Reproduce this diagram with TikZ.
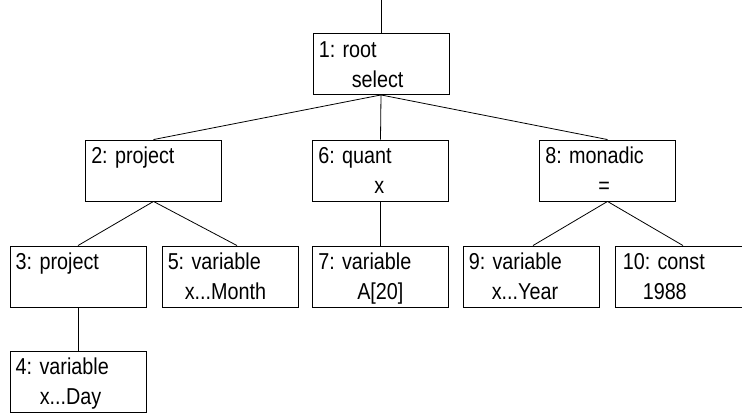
\documentclass[tikz,border=0pt]{standalone}
\usepackage{fontspec}
\setmainfont{Liberation Sans}[FakeStretch=0.86]
\usetikzlibrary{calc}
\begin{document}
\begin{tikzpicture}[x=1pt,y=-1pt,
  opbox/.style={draw,line width=0.9pt,minimum width=136pt,minimum height=61pt,inner sep=0pt},
  edge/.style={line width=0.8pt},
  txt/.style={anchor=base west,inner sep=0pt,font=\fontsize{23}{27}\selectfont}]
\useasboundingbox (0,0) rectangle (742,415);
\clip (0,0) rectangle (742,415);
% operator boxes
\node[opbox] (n1)  at (381,64) {};
\node[opbox] (n2)  at (153.5,170.5) {};
\node[opbox] (n6)  at (380.5,170.5) {};
\node[opbox] (n8)  at (607.5,170.5) {};
\node[opbox] (n3)  at (78,276.5) {};
\node[opbox] (n5)  at (230,276.5) {};
\node[opbox] (n7)  at (380.5,276.5) {};
\node[opbox] (n9)  at (531,276.5) {};
\node[opbox] (n10) at (683,276.5) {};
\node[opbox] (n4)  at (78,382) {};
\coordinate (top) at (381,0);
% labels: first line is the node id and kind, second line the argument
\node[txt] (l1a)  at ($(n1.north west)+(6,24)$) {1: root};
\node[txt] (l1b)  at ($(n1.north west)+(39,54)$) {select};
\node[txt] (l2a)  at ($(n2.north west)+(6,23.5)$) {2: project};
\node[txt] (l6a)  at ($(n6.north west)+(6,23.5)$) {6: quant};
\node[txt] (l6b)  at ($(n6.north west)+(62,53.5)$) {x};
\node[txt] (l8a)  at ($(n8.north west)+(6,23.5)$) {8: monadic};
\node[txt] (l8b)  at ($(n8.north west)+(59,53.5)$) {=};
\node[txt] (l3a)  at ($(n3.north west)+(6,23.5)$) {3: project};
\node[txt] (l5a)  at ($(n5.north west)+(6,23.5)$) {5: variable};
\node[txt] (l5b)  at ($(n5.north west)+(23,53.5)$) {x...Month};
\node[txt] (l7a)  at ($(n7.north west)+(6,23.5)$) {7: variable};
\node[txt] (l7b)  at ($(n7.north west)+(45,53.5)$) {A[20]};
\node[txt] (l9a)  at ($(n9.north west)+(6,23.5)$) {9: variable};
\node[txt] (l9b)  at ($(n9.north west)+(29,53.5)$) {x...Year};
\node[txt] (l10a) at ($(n10.north west)+(8,23.5)$) {10: const};
\node[txt] (l10b) at ($(n10.north west)+(28,53.5)$) {1988};
\node[txt] (l4a)  at ($(n4.north west)+(6,23.5)$) {4: variable};
\node[txt] (l4b)  at ($(n4.north west)+(30,53.5)$) {x...Day};
% tree edges
\draw[edge] (top) -- (n1.north);
\draw[edge] (n1.south) -- (n2.north);
\draw[edge] (n1.south) -- (n6.north);
\draw[edge] (n1.south) -- (n8.north);
\draw[edge] (n2.south) -- (n3.north);
\draw[edge] (n2.south) -- ([xshift=7pt]n5.north);
\draw[edge] (n6.south) -- (n7.north);
\draw[edge] (n8.south) -- ([xshift=2pt]n9.north);
\draw[edge] (n8.south) -- (n10.north);
\draw[edge] (n3.south) -- (n4.north);
\end{tikzpicture}
\end{document}
